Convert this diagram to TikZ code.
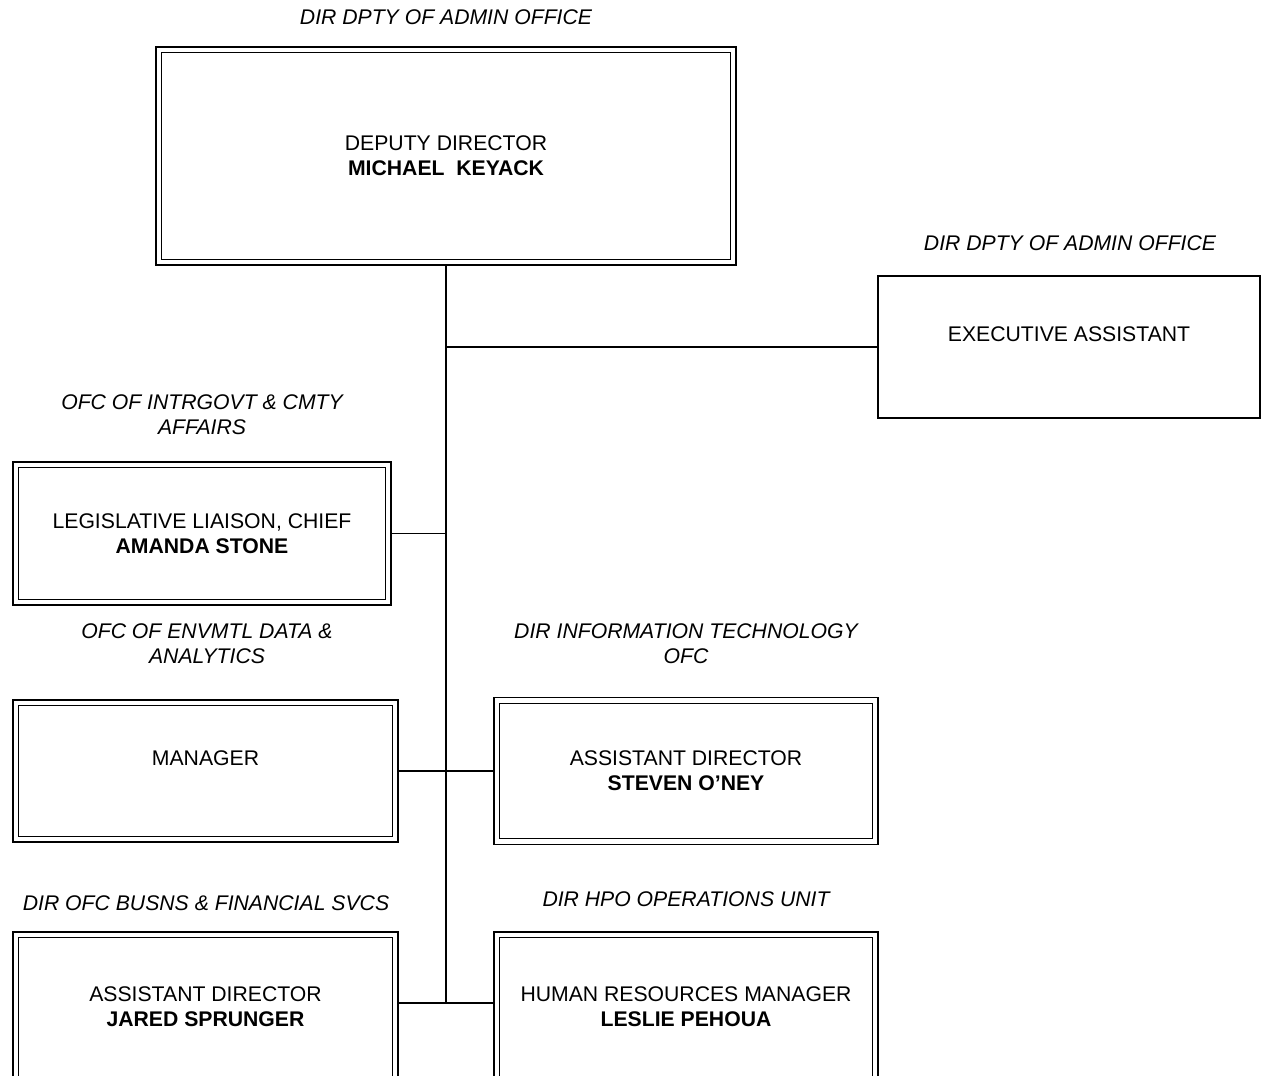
\documentclass[tikz,border=0pt]{standalone}
\usepackage{fontspec}
\setmainfont{Liberation Sans}
\usetikzlibrary{calc,positioning}
\tikzset{%
	unit/.style     = {draw, rectangle, line width=0.75pt, inner sep=0pt, align=center, font=\fontsize{10.6}{12.5}\selectfont},
	office/.style   = {align=center, inner sep=0pt, font=\fontsize{10.6}{12.5}\selectfont\itshape}, % office label
	inframe/.style  = {line width=0.4pt}, % inner frame
	link/.style     = {line width=0.75pt}, % connector
	waypoint/.style = {coordinate},
}

\begin{document}
\begin{tikzpicture}[x=0.5pt,y=-0.5pt]
	\useasboundingbox (0,0) rectangle (1262,1075);
	% boxes
	\node[unit, minimum width=290pt, minimum height=109pt] (dep) at (446,156) {DEPUTY DIRECTOR\\\textbf{MICHAEL~~KEYACK}};
	\node[unit, minimum width=191pt, minimum height=71pt] (exa) at (1069,347) {EXECUTIVE ASSISTANT\\\mbox{}};
	\node[unit, minimum width=189pt, minimum height=71.5pt] (leg) at (202,533.5) {LEGISLATIVE LIAISON, CHIEF\\\textbf{AMANDA STONE}};
	\node[unit, minimum width=192.5pt, minimum height=71pt] (mgr) at (205.5,771) {MANAGER\\\mbox{}};
	\node[unit, minimum width=192pt, minimum height=73.5pt] (ste) at (686,771) {ASSISTANT DIRECTOR\\\textbf{STEVEN O’NEY}};
	\node[unit, minimum width=192.5pt, minimum height=75pt] (jar) at (205.5,1007) {ASSISTANT DIRECTOR\\\textbf{JARED SPRUNGER}};
	\node[unit, minimum width=192pt, minimum height=75pt] (hr) at (686,1007) {HUMAN RESOURCES MANAGER\\\textbf{LESLIE PEHOUA}};
	\foreach \n in {dep,leg,mgr,ste,jar,hr}
		\draw[inframe] ([shift={(3.2pt,-3.2pt)}]\n.north west) rectangle ([shift={(-3.2pt,3.2pt)}]\n.south east);
	% office labels
	\node[office] (o-dep) at (446,17) {DIR DPTY OF ADMIN OFFICE};
	\node[office] (o-exa) at (1070,243) {DIR DPTY OF ADMIN OFFICE};
	\node[office] (o-leg) at (202,414.5) {OFC OF INTRGOVT \& CMTY\\AFFAIRS};
	\node[office] (o-mgr) at (207,643.5) {OFC OF ENVMTL DATA \&\\ANALYTICS};
	\node[office] (o-ste) at (686,643.5) {DIR INFORMATION TECHNOLOGY\\OFC};
	\node[office] (o-jar) at (206,903) {DIR OFC BUSNS \& FINANCIAL SVCS};
	\node[office] (o-hr) at (686,899) {DIR HPO OPERATIONS UNIT};
	% connectors
	\node[waypoint] (bus) at (446,1003) {};
	\draw[link] (dep.south) -- (bus);
	\draw[link] (exa.west) -- (exa.west -| bus);
	\draw[link] (leg.east) -- (leg.east -| bus);
	\draw[link] (mgr.east) -- (mgr.east -| bus);
	\draw[link] (ste.west) -- (ste.west -| bus);
	\draw[link] (jar.east |- bus) -- (bus);
	\draw[link] (hr.west |- bus) -- (bus);
\end{tikzpicture}
\end{document}
